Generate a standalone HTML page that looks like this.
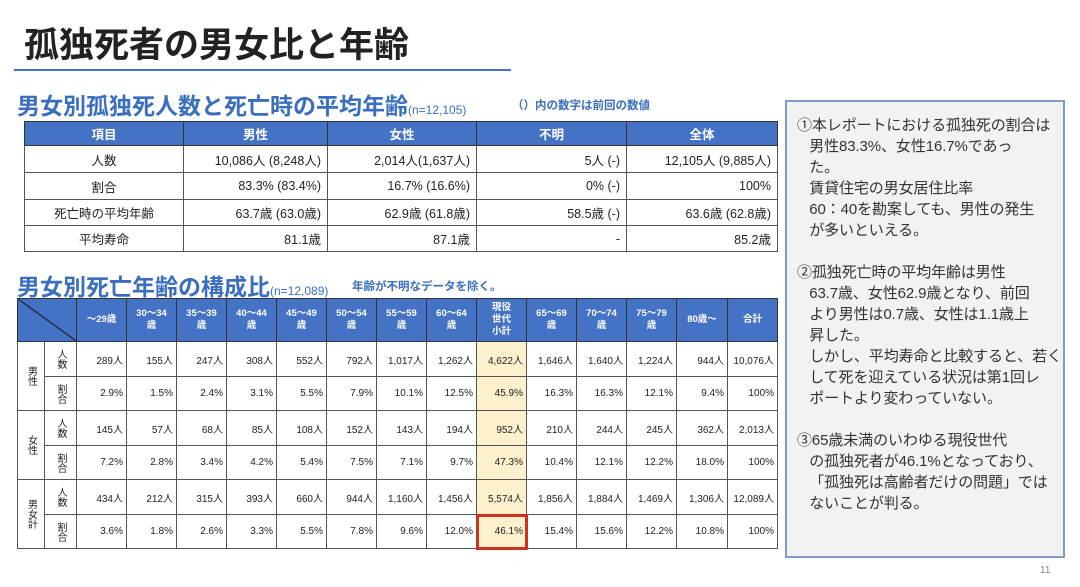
<!DOCTYPE html>
<html><head><meta charset="utf-8"><style>
*{margin:0;padding:0;box-sizing:border-box}
body{width:1080px;height:587px;background:#fff;position:relative;overflow:hidden;font-family:"Liberation Sans","Noto Sans CJK JP",sans-serif;color:#222}
.a{position:absolute;white-space:nowrap}
.h1{left:24px;top:17px;font-size:35px;font-weight:bold;color:#222}
.line{left:14px;top:69px;width:497px;height:2px;background:#4472c4}
.h2{font-size:23px;font-weight:bold;color:#3a6fc0}
.h2 small{font-size:12px;font-weight:normal}
.note{font-size:11.5px;font-weight:bold;color:#3a6fc0}
table{position:absolute;border-collapse:collapse;table-layout:fixed}
td{border:1px solid #555;font-size:12.5px;padding:0 6px;text-align:right}
.t1 th{background:#4472c4;color:#fff;font-size:12.5px;border:1px solid #333;font-weight:bold}
.t2 td{font-size:10px;padding:0 3px}
.t2 th{background:#4472c4;color:#fff;font-size:9.5px;border:1px solid #333;font-weight:bold;line-height:12px}
.c{text-align:center}
.y{background:#fdf0cd}
.v{writing-mode:vertical-rl;text-align:center;font-size:10px;padding:0}
.box{left:785px;top:100px;width:280px;height:458px;background:#f2f2f2;border:2px solid #7f9bc8}
.bt{font-size:15px;color:#333;line-height:21px;letter-spacing:-0.1px}
</style></head><body>
<div class="a h1">孤独死者の男女比と年齢</div>
<div class="a line"></div>
<div class="a h2" style="left:17px;top:87px">男女別孤独死人数と死亡時の平均年齢<small>(n=12,105)</small></div>
<div class="a note" style="left:512px;top:97px">（）内の数字は前回の数値</div>
<table class="t1" style="left:24px;top:121px;width:753px">
<colgroup><col style="width:159px"><col style="width:144px"><col style="width:149px"><col style="width:150px"><col style="width:151px"></colgroup>
<tr style="height:24px"><th>項目</th><th>男性</th><th>女性</th><th>不明</th><th>全体</th></tr>
<tr style="height:27px"><td class="c">人数</td><td>10,086人 (8,248人)</td><td>2,014人(1,637人)</td><td>5人 (-)</td><td>12,105人 (9,885人)</td></tr>
<tr style="height:27px"><td class="c">割合</td><td>83.3% (83.4%)</td><td>16.7% (16.6%)</td><td>0% (-)</td><td>100%</td></tr>
<tr style="height:26px"><td class="c">死亡時の平均年齢</td><td>63.7歳 (63.0歳)</td><td>62.9歳 (61.8歳)</td><td>58.5歳 (-)</td><td>63.6歳 (62.8歳)</td></tr>
<tr style="height:26px"><td class="c">平均寿命</td><td>81.1歳</td><td>87.1歳</td><td>-</td><td>85.2歳</td></tr>
</table>
<div class="a h2" style="left:17px;top:268px">男女別死亡年齢の構成比<small>(n=12,089)</small></div>
<div class="a note" style="left:352px;top:278px">年齢が不明なデータを除く。</div>
<table class="t2" style="left:17px;top:298px;width:760px">
<colgroup><col style="width:27px"><col style="width:32px"><col style="width:50px"><col style="width:50px"><col style="width:50px"><col style="width:50px"><col style="width:50px"><col style="width:50px"><col style="width:50px"><col style="width:50px"><col style="width:50px"><col style="width:50px"><col style="width:50px"><col style="width:50px"><col style="width:51px"><col style="width:50px"></colgroup>
<tr style="height:43px"><th colspan="2" style="background:#4472c4 linear-gradient(to top right,transparent 49%,#111 50%,transparent 52%)"></th><th>～29歳</th><th>30～34<br>歳</th><th>35～39<br>歳</th><th>40～44<br>歳</th><th>45～49<br>歳</th><th>50～54<br>歳</th><th>55～59<br>歳</th><th>60～64<br>歳</th><th>現役<br>世代<br>小計</th><th>65～69<br>歳</th><th>70～74<br>歳</th><th>75～79<br>歳</th><th>80歳～</th><th>合計</th></tr>
<tr style="height:35px"><td rowspan="2" class="v">男性</td><td class="v">人数</td><td>289人</td><td>155人</td><td>247人</td><td>308人</td><td>552人</td><td>792人</td><td>1,017人</td><td>1,262人</td><td class="y">4,622人</td><td>1,646人</td><td>1,640人</td><td>1,224人</td><td>944人</td><td>10,076人</td></tr>
<tr style="height:34px"><td class="v">割合</td><td>2.9%</td><td>1.5%</td><td>2.4%</td><td>3.1%</td><td>5.5%</td><td>7.9%</td><td>10.1%</td><td>12.5%</td><td class="y">45.9%</td><td>16.3%</td><td>16.3%</td><td>12.1%</td><td>9.4%</td><td>100%</td></tr>
<tr style="height:35px"><td rowspan="2" class="v">女性</td><td class="v">人数</td><td>145人</td><td>57人</td><td>68人</td><td>85人</td><td>108人</td><td>152人</td><td>143人</td><td>194人</td><td class="y">952人</td><td>210人</td><td>244人</td><td>245人</td><td>362人</td><td>2,013人</td></tr>
<tr style="height:34px"><td class="v">割合</td><td>7.2%</td><td>2.8%</td><td>3.4%</td><td>4.2%</td><td>5.4%</td><td>7.5%</td><td>7.1%</td><td>9.7%</td><td class="y">47.3%</td><td>10.4%</td><td>12.1%</td><td>12.2%</td><td>18.0%</td><td>100%</td></tr>
<tr style="height:35px"><td rowspan="2" class="v">男女計</td><td class="v">人数</td><td>434人</td><td>212人</td><td>315人</td><td>393人</td><td>660人</td><td>944人</td><td>1,160人</td><td>1,456人</td><td class="y">5,574人</td><td>1,856人</td><td>1,884人</td><td>1,469人</td><td>1,306人</td><td>12,089人</td></tr>
<tr style="height:34px"><td class="v">割合</td><td>3.6%</td><td>1.8%</td><td>2.6%</td><td>3.3%</td><td>5.5%</td><td>7.8%</td><td>9.6%</td><td>12.0%</td><td class="y" style="outline:3px solid #d0301f;outline-offset:-2px">46.1%</td><td>15.4%</td><td>15.6%</td><td>12.2%</td><td>10.8%</td><td>100%</td></tr>
</table>
<div class="a box"></div>
<div class="a bt" style="left:797px;top:115px">①本レポートにおける孤独死の割合は<br>&nbsp;&nbsp;&nbsp;男性83.3%、女性16.7%であっ<br>&nbsp;&nbsp;&nbsp;た。<br>&nbsp;&nbsp;&nbsp;賃貸住宅の男女居住比率<br>&nbsp;&nbsp;&nbsp;60：40を勘案しても、男性の発生<br>&nbsp;&nbsp;&nbsp;が多いといえる。</div>
<div class="a bt" style="left:797px;top:262px">②孤独死亡時の平均年齢は男性<br>&nbsp;&nbsp;&nbsp;63.7歳、女性62.9歳となり、前回<br>&nbsp;&nbsp;&nbsp;より男性は0.7歳、女性は1.1歳上<br>&nbsp;&nbsp;&nbsp;昇した。<br>&nbsp;&nbsp;&nbsp;しかし、平均寿命と比較すると、若く<br>&nbsp;&nbsp;&nbsp;して死を迎えている状況は第1回レ<br>&nbsp;&nbsp;&nbsp;ポートより変わっていない。</div>
<div class="a bt" style="left:797px;top:430px">③65歳未満のいわゆる現役世代<br>&nbsp;&nbsp;&nbsp;の孤独死者が46.1%となっており、<br>&nbsp;&nbsp;&nbsp;「孤独死は高齢者だけの問題」では<br>&nbsp;&nbsp;&nbsp;ないことが判る。</div>
<div class="a" style="left:1040px;top:565px;font-size:10px;color:#888">11</div>
</body></html>
